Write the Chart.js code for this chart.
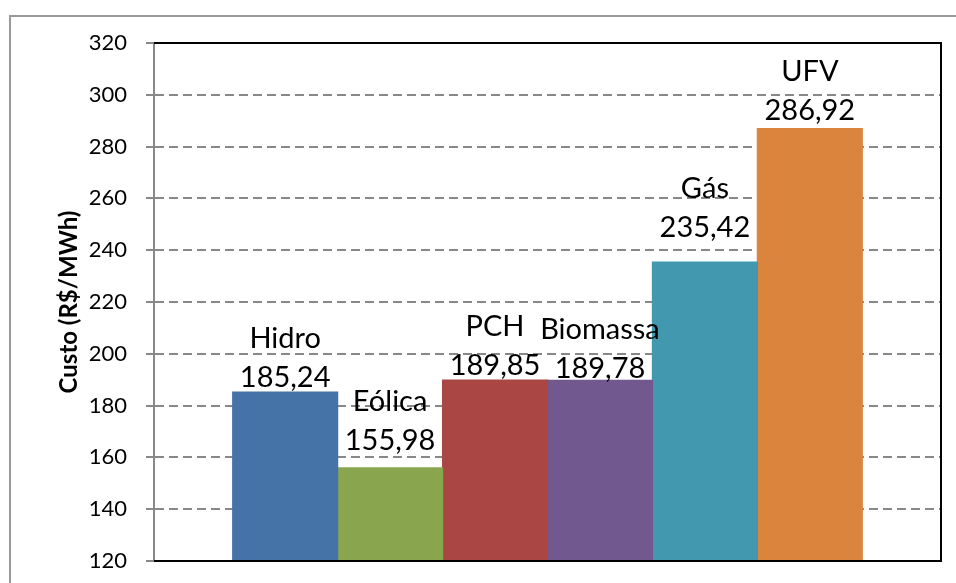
<!DOCTYPE html>
<html>
<head>
<meta charset="utf-8">
<script src="https://cdn.jsdelivr.net/npm/chart.js@4"></script>
<style>
html, body { margin: 0; padding: 0; background: #fff; }
</style>
</head>
<body>
<canvas id="custo" width="956" height="583"></canvas>
<script>
const fontes = ['Hidro', 'Eólica', 'PCH', 'Biomassa', 'Gás', 'UFV'];
const custos = [185.24, 155.98, 189.85, 189.78, 235.42, 286.92];
const cores = ['#4572A7', '#89A54E', '#AA4643', '#71588F', '#4198AF', '#DB843D'];
const yTicks = [120, 140, 160, 180, 200, 220, 240, 260, 280, 300, 320];
// space between each value label and its bar top, as placed in the original
const labelGap = [5, 18, 5, 2, 25, 9];

const fmt = v => v.toFixed(2).replace('.', ',');

// outer chart border and plot frame
const moldura = {
    id: 'moldura',
    beforeDraw(chart) {
        const ctx = chart.ctx;
        ctx.save();
        ctx.strokeStyle = '#999';
        ctx.lineWidth = 2;
        ctx.beginPath();
        ctx.moveTo(10, 600);
        ctx.lineTo(10, 16);
        ctx.lineTo(970, 16);
        ctx.stroke();
        ctx.restore();
    },
    afterDatasetsDraw(chart) {
        const {ctx, chartArea: a} = chart;
        ctx.save();
        ctx.strokeStyle = '#000';
        ctx.lineWidth = 2;
        ctx.beginPath();
        ctx.moveTo(a.left, a.top);
        ctx.lineTo(a.right, a.top);
        ctx.lineTo(a.right, a.bottom);
        ctx.lineTo(a.left, a.bottom);
        ctx.stroke();
        ctx.restore();
    }
};

// two-line labels (name + value) above each bar
const rotulos = {
    id: 'rotulos',
    afterDraw(chart) {
        const ctx = chart.ctx;
        ctx.save();
        ctx.font = '29px Lato';
        ctx.fillStyle = '#000';
        ctx.textAlign = 'center';
        ctx.textBaseline = 'alphabetic';
        chart.data.datasets.forEach((ds, i) => {
            const bar = chart.getDatasetMeta(i).data[0];
            const y = bar.y - labelGap[i];
            ctx.fillText(fmt(ds.data[0]), bar.x, y);
            ctx.fillText(ds.label, bar.x, y - 39);
        });
        ctx.restore();
    }
};

const ctx = document.getElementById('custo');
const myChart = new Chart(ctx, {
    type: 'bar',
    data: {
        labels: [''],
        datasets: fontes.map((f, i) => ({
            label: f,
            data: [custos[i]],
            backgroundColor: cores[i],
            borderWidth: 0,
            inflateAmount: 0.6
        }))
    },
    options: {
        responsive: false,
        animation: false,
        categoryPercentage: 0.8,
        barPercentage: 1,
        layout: { padding: { left: 55, top: 43, right: 15, bottom: 22 } },
        plugins: {
            legend: { display: false },
            tooltip: { enabled: false }
        },
        scales: {
            x: { display: false },
            y: {
                min: 120,
                max: 320,
                afterBuildTicks: scale => { scale.ticks = yTicks.map(v => ({ value: v })); },
                afterFit: scale => {
                    scale.width = 99;
                    scale.paddingTop = 0;
                    scale.paddingBottom = 0;
                },
                ticks: {
                    color: '#000',
                    font: { family: 'Lato', size: 22 },
                    padding: 19
                },
                grid: {
                    color: c => (c.tick && (c.tick.value === 120 || c.tick.value === 320)) ? 'rgba(0,0,0,0)' : '#888',
                    lineWidth: 2,
                    tickColor: '#888',
                    tickLength: 8
                },
                border: { display: true, color: '#888', width: 2, dash: [9, 5] },
                title: {
                    display: true,
                    text: 'Custo (R$/MWh)',
                    color: '#000',
                    font: { family: 'Lato', size: 24, weight: 'bold' },
                    padding: 0
                }
            }
        }
    },
    plugins: [moldura, rotulos]
});
</script>
</body>
</html>
